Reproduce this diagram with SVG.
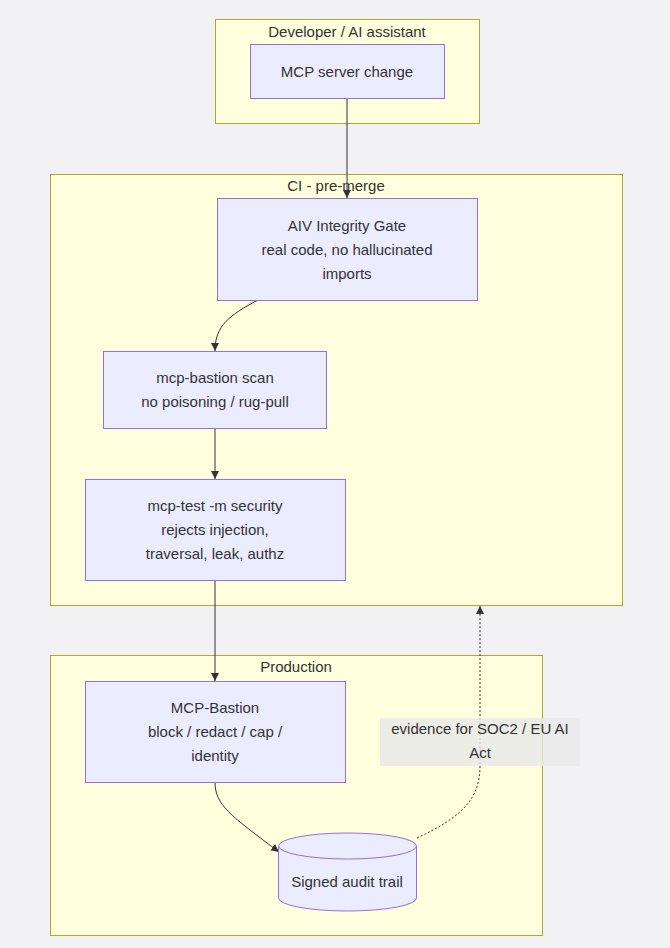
<svg xmlns="http://www.w3.org/2000/svg" width="670" height="948" viewBox="0 0 670 948">
<style>
.cl{fill:#ffffde;stroke:#aaaa33;stroke-width:1}
.nd{fill:#ececff;stroke:#9370db;stroke-width:1}
.t{font-family:"Liberation Sans",Arial,sans-serif;font-size:15px;fill:#333;text-anchor:middle}
.e{fill:none;stroke:#333;stroke-width:1}
.d{fill:none;stroke:#333;stroke-width:1;stroke-dasharray:2 2}
</style>
<defs>
<marker id="ah" viewBox="0 0 10 10" refX="10" refY="5" markerWidth="8" markerHeight="8" orient="auto" markerUnits="userSpaceOnUse">
<path d="M0,0 L10,5 L0,10 z" fill="#333"/>
</marker>
</defs>
<rect width="670" height="948" fill="#f2f2f5"/>
<g id="cluster-dev">
<rect class="cl" x="215.5" y="19.5" width="264" height="104"/>
<text class="t" x="347" y="37">Developer / AI assistant</text>
</g>
<g id="cluster-ci">
<rect class="cl" x="50.5" y="174.5" width="572" height="431"/>
<text class="t" x="336" y="191">CI - pre-merge</text>
</g>
<g id="cluster-prod">
<rect class="cl" x="50.5" y="655.5" width="492" height="280"/>
<text class="t" x="296" y="672">Production</text>
</g>
<g id="connectors">
<path class="e" d="M347,98 L347,198" marker-end="url(#ah)"/>
<path class="e" d="M258,300 C230,315 215,325 215,351" marker-end="url(#ah)"/>
<path class="e" d="M215,428 L215,479" marker-end="url(#ah)"/>
<path class="e" d="M215,580 L215,681" marker-end="url(#ah)"/>
<path class="e" d="M215,782 C215,805 230,815 279,852" marker-end="url(#ah)"/>
<path class="d" d="M417,838 C460,818 480,800 480,766 L480,606" marker-end="url(#ah)"/>
</g>
<g id="node-change">
<rect class="nd" x="250.5" y="44.5" width="194" height="54"/>
<text class="t" x="347" y="77">MCP server change</text>
</g>
<g id="node-aiv">
<rect class="nd" x="217.5" y="198.5" width="260" height="102"/>
<text class="t" x="347" y="231">AIV Integrity Gate</text>
<text class="t" x="347" y="255">real code, no hallucinated</text>
<text class="t" x="347" y="279">imports</text>
</g>
<g id="node-scan">
<rect class="nd" x="103.5" y="351.5" width="223" height="77"/>
<text class="t" x="215" y="383">mcp-bastion scan</text>
<text class="t" x="215" y="407">no poisoning / rug-pull</text>
</g>
<g id="node-test">
<rect class="nd" x="85.5" y="479.5" width="260" height="101"/>
<text class="t" x="215" y="511">mcp-test -m security</text>
<text class="t" x="215" y="535">rejects injection,</text>
<text class="t" x="215" y="559">traversal, leak, authz</text>
</g>
<g id="node-bastion">
<rect class="nd" x="85.5" y="681.5" width="260" height="101"/>
<text class="t" x="215" y="713">MCP-Bastion</text>
<text class="t" x="215" y="737">block / redact / cap /</text>
<text class="t" x="215" y="761">identity</text>
</g>
<g id="node-audit">
<path class="nd" d="M278.5,846 A69,13 0 0 1 416.5,846 L416.5,898 A69,13 0 0 1 278.5,898 Z"/>
<path class="nd" d="M278.5,846 A69,13 0 0 0 416.5,846" fill="none"/>
<text class="t" x="347" y="887">Signed audit trail</text>
</g>
<g id="label-evidence">
<rect x="380" y="718" width="200" height="48" fill="#e8e8e8" fill-opacity="0.8"/>
<text class="t" x="480" y="734">evidence for SOC2 / EU AI</text>
<text class="t" x="480" y="758">Act</text>
</g>
</svg>
